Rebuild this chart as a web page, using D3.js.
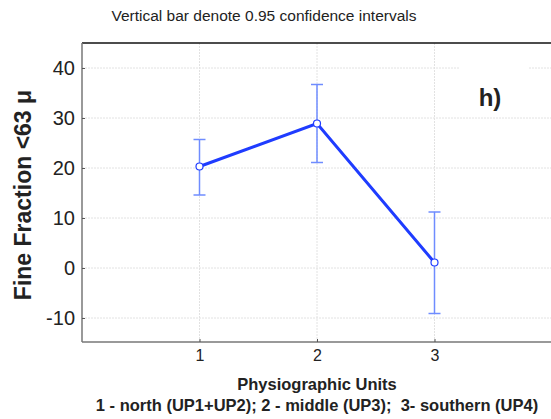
<!DOCTYPE html>
<html><head><meta charset="utf-8">
<script src="https://cdn.jsdelivr.net/npm/d3@7"></script>
<style>body{margin:0;background:#fff}svg{display:block}text{font-family:"Liberation Sans",Arial,sans-serif}</style>
</head><body><svg id="c" width="551" height="419"></svg>
<script>
const units = [1, 2, 3];
const means = [20.3, 28.9, 1.1];
const ciLow = [14.6, 21.1, -9.1];
const ciHigh = [25.7, 36.7, 11.2];
const yTicks = [-10, 0, 10, 20, 30, 40];
const xTicks = [1, 2, 3];

const svg = d3.select("#c");
const L = 82, R = 552, T = 43, B = 342;
const x = d3.scaleLinear().domain([0, 4]).range([L, R]);
const y = d3.scaleLinear().domain([-14.8, 45]).range([B, T]);
const fmt = d => String(d);

// grid
svg.append("g").selectAll("line").data(yTicks).join("line")
  .attr("x1", L).attr("x2", R).attr("y1", d => y(d)).attr("y2", d => y(d))
  .attr("stroke", "#e2e2e2").attr("stroke-width", 1).attr("stroke-dasharray", "2,1");
svg.append("g").selectAll("line").data(xTicks).join("line")
  .attr("y1", T).attr("y2", B).attr("x1", d => x(d)).attr("x2", d => x(d))
  .attr("stroke", "#e2e2e2").attr("stroke-width", 1).attr("stroke-dasharray", "2,1");

// frame
svg.append("line").attr("x1", L).attr("x2", R).attr("y1", T).attr("y2", T).attr("stroke", "#111").attr("stroke-width", 1.5);
svg.append("line").attr("x1", L).attr("x2", L).attr("y1", T).attr("y2", B).attr("stroke", "#777").attr("stroke-width", 1.5);
svg.append("line").attr("x1", L).attr("x2", R).attr("y1", B).attr("y2", B).attr("stroke", "#777").attr("stroke-width", 1.5);

// axes
const ya = svg.append("g").attr("transform", `translate(${L},0)`)
  .call(d3.axisLeft(y).tickValues(yTicks).tickSize(-3).tickPadding(7).tickFormat(fmt));
ya.select(".domain").remove();
ya.selectAll("line").attr("stroke", "#555");
ya.selectAll("text").attr("font-size", 20).attr("fill", "#222").attr("font-family", "Liberation Sans, Arial, sans-serif");

const xa = svg.append("g").attr("transform", `translate(0,${B})`)
  .call(d3.axisBottom(x).tickValues(xTicks).tickSize(-3).tickPadding(8).tickFormat(fmt));
xa.select(".domain").remove();
xa.selectAll("line").attr("stroke", "#555");
xa.selectAll("text").attr("font-size", 16).attr("fill", "#222").attr("font-family", "Liberation Sans, Arial, sans-serif");

// h) label box
svg.append("rect").attr("x", 460).attr("y", 60).attr("width", 69).attr("height", 55).attr("fill", "#fff");
svg.append("text").attr("x", 490).attr("y", 106).attr("text-anchor", "middle")
  .attr("font-size", 24).attr("font-weight", "bold").attr("fill", "#222").text("h)");

// error bars
const eb = svg.append("g").attr("stroke", "#6f8cff").attr("stroke-width", 1.5);
units.forEach((u, i) => {
  eb.append("line").attr("x1", x(u)).attr("x2", x(u)).attr("y1", y(ciLow[i])).attr("y2", y(ciHigh[i]));
  eb.append("line").attr("x1", x(u) - 6).attr("x2", x(u) + 6).attr("y1", y(ciLow[i])).attr("y2", y(ciLow[i]));
  eb.append("line").attr("x1", x(u) - 6).attr("x2", x(u) + 6).attr("y1", y(ciHigh[i])).attr("y2", y(ciHigh[i]));
});

// line
svg.append("path").datum(units.map((u, i) => [u, means[i]]))
  .attr("d", d3.line().x(d => x(d[0])).y(d => y(d[1])))
  .attr("fill", "none").attr("stroke", "#1f3cff").attr("stroke-width", 3);
svg.append("g").selectAll("circle").data(units).join("circle")
  .attr("cx", d => x(d)).attr("cy", (d, i) => y(means[i])).attr("r", 3.5)
  .attr("fill", "#fff").attr("stroke", "#1f3cff").attr("stroke-width", 1.2);

// titles
svg.append("text").attr("x", 264).attr("y", 21).attr("text-anchor", "middle")
  .attr("font-size", 15.5).attr("fill", "#222").text("Vertical bar denote 0.95 confidence intervals");
svg.append("text").attr("transform", "translate(31,195) rotate(-90)").attr("text-anchor", "middle")
  .attr("font-size", 23).attr("font-weight", "bold").attr("fill", "#222").text("Fine Fraction <63 μ");
svg.append("text").attr("x", 317).attr("y", 390).attr("text-anchor", "middle")
  .attr("font-size", 16.5).attr("font-weight", "bold").attr("fill", "#222").text("Physiographic Units");
svg.append("text").attr("x", 317).attr("y", 411).attr("text-anchor", "middle")
  .attr("font-size", 16.5).attr("font-weight", "bold").attr("fill", "#222").text("1 - north (UP1+UP2); 2 - middle (UP3);  3- southern (UP4)")
  .attr("xml:space", "preserve").style("white-space", "pre");
</script></body></html>
